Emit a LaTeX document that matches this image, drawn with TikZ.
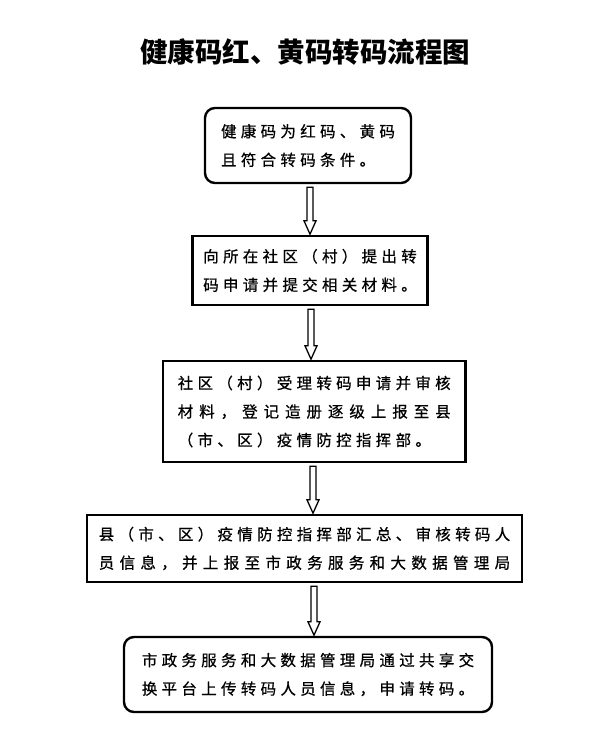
\documentclass[tikz,border=0pt]{standalone}
\usepackage{fontspec}
\setmainfont{Noto Sans CJK SC}
\newfontfamily\bodyfont[FakeBold=0.7]{Noto Sans CJK SC}
\usetikzlibrary{calc}
\newlength\chgap
\newcommand\spc[1]{\spcaux#1\relax}
\def\spcaux#1{\ifx\relax#1\unskip\else#1\hspace{\chgap}\expandafter\spcaux\fi}
\newcommand\tline[2][4.3pt]{\setlength\chgap{#1}\spc{#2}}
\newcommand\harrow[3]{%
  \draw[arr] let \p1=(#2.south), \p2=(#3.north) in
   (#1pt-3pt,\y1-3pt) -- (#1pt-3pt,\y2+14pt) -- (#1pt-6pt,\y2+14pt) -- (#1pt,\y2+0.6pt)
   -- (#1pt+6pt,\y2+14pt) -- (#1pt+3pt,\y2+14pt) -- (#1pt+3pt,\y1-3pt) -- cycle;}
\begin{document}
\begin{tikzpicture}[x=1pt,y=-1pt,
  box/.style={draw=black,line width=2.4pt,align=left,inner sep=0pt,
    font=\bodyfont\fontsize{15.5}{28.5}\selectfont},
  rbox/.style={box,rounded corners=10pt},
  arr/.style={draw=black,fill=white,line width=1.3pt,line join=miter}]
\useasboundingbox[fill=white] (0,0) rectangle (600,741);
\node[font=\bfseries\fontsize{27.5}{30}\selectfont] (title) at (305,52) {健康码红、黄码转码流程图};
\node[rbox,minimum width=206pt,minimum height=75pt] (b1) at (308,145.5)
  {\tline{健康码为红码、黄码}\\\tline{且符合转码条件。}};
\node[box,minimum width=235pt,minimum height=69pt] (b2) at (310,270.5)
  {\tline{向所在社区（村）提出转}\\\tline{码申请并提交相关材料。}};
\node[box,minimum width=302.5pt,minimum height=101pt] (b3) at (314.25,411.5)
  {\tline{社区（村）受理转码申请并审核}\\\tline[5.95pt]{材料，登记造册逐级上报至县}\\\tline{（市、区）疫情防控指挥部。}};
\node[box,minimum width=435pt,minimum height=67pt] (b4) at (304.5,548.5)
  {\tline{县（市、区）疫情防控指挥部汇总、审核转码人}\\\tline[5.34pt]{员信息，并上报至市政务服务和大数据管理局}};
\node[rbox,minimum width=368pt,minimum height=75pt] (b5) at (308,674.5)
  {\tline{市政务服务和大数据管理局通过共享交}\\\tline{换平台上传转码人员信息，申请转码。}};
\harrow{310}{b1}{b2}
\harrow{311}{b2}{b3}
\harrow{313}{b3}{b4}
\harrow{314}{b4}{b5}
\end{tikzpicture}
\end{document}
